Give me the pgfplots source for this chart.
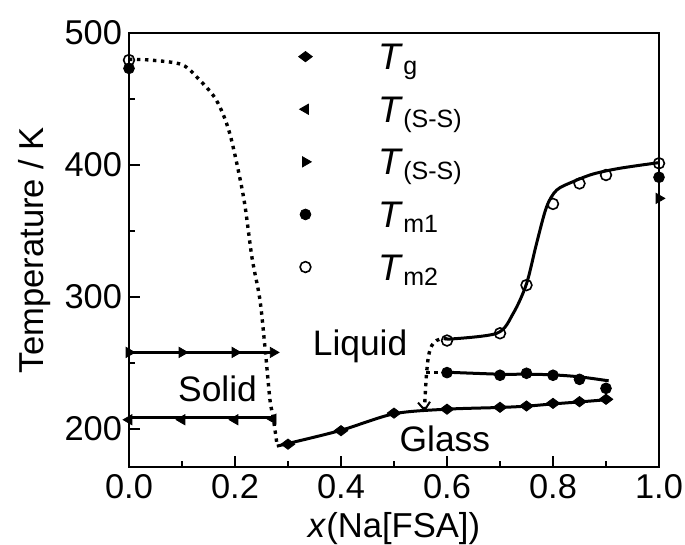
\documentclass[border=0pt]{standalone}
\usepackage{pgfplots}
\pgfplotsset{compat=1.18}
\usepackage{fontspec}
\setmainfont{Liberation Sans}
\usetikzlibrary{arrows.meta}
\newcommand\sub[1]{\raisebox{-2.5pt}{\fontsize{12.5}{12.5}\selectfont #1}}
\newcommand\leg[1]{\hspace*{28pt}\textit{T}\sub{#1}}
\begin{document}
\begin{tikzpicture}
\pgfplotsset{
  lm/.style={only marks, legend image code/.code={\path[draw=none] (0,0) -- (0.6cm,0); \path[mark repeat=2,mark phase=2,##1,draw=none] plot[only marks] coordinates {(0cm,0cm) (0.3cm,0cm) (0.6cm,0cm)};}},
  dotl/.style={line width=1.7pt, dash pattern=on 1.7pt off 2.3pt, black},
  soll/.style={line width=1.5pt, black},
}
\begin{axis}[
  width=265pt, height=217pt, scale only axis,
  xmin=0, xmax=1, ymin=171.2, ymax=500,
  xtick={0,0.2,0.4,0.6,0.8,1.0}, minor x tick num=1,
  ytick={200,300,400,500}, minor y tick num=1,
  tick align=inside, xtick pos=bottom, ytick pos=left,
  major tick length=5.5pt, minor tick length=3pt,
  axis line style={line width=1pt},
  every tick/.style={line width=1pt, black},
  tick label style={font=\fontsize{17.2}{17.2}\selectfont},
  /pgf/number format/assume math mode=true,
  xticklabel style={/pgf/number format/fixed, /pgf/number format/fixed zerofill, /pgf/number format/precision=1},
  yticklabel style={/pgf/number format/fixed},
  xlabel={\textit{x}(Na[FSA])}, ylabel={Temperature / K},
  label style={font=\fontsize{17.3}{17.3}\selectfont},
  clip=false,
  legend cell align=left,
  legend style={at={(axis cs:0.300,493.0)}, anchor=north west, draw=none, fill=none, inner sep=0pt,
    font=\fontsize{18.5}{18.5}\selectfont,
    nodes={inner sep=0pt, text height=13.5pt, text depth=0.5pt},
    row sep=12.3pt},
]
% lines
\addplot[dotl, smooth, forget plot] coordinates {(0,480) (0.04,479.5) (0.1,476) (0.134,464) (0.165,449) (0.19,424) (0.216,376) (0.232,330) (0.247,298) (0.257,260) (0.266,222) (0.272,209) (0.279,189)};
\addplot[dotl, smooth, forget plot, -{Straight Barb[length=4pt,width=6pt,line width=1pt]}] coordinates {(0.6,268) (0.593,268.7) (0.58,267) (0.571,263) (0.565,255) (0.561,240) (0.558,219) (0.558,213)};
\addplot[dotl, forget plot] coordinates {(0.561,243) (0.6,243)};
\addplot[soll, smooth, forget plot] coordinates {(0.279,187) (0.3,189) (0.4,199) (0.5,211.5) (0.6,215) (0.7,216.3) (0.75,217.3) (0.8,219) (0.85,220.5) (0.905,222.3)};
\addplot[soll, smooth, forget plot] coordinates {(0.6,243) (0.7,241.5) (0.75,241.5) (0.8,241) (0.85,239.5) (0.905,236.5)};
\addplot[soll, smooth, tension=0.5, forget plot] coordinates {(0.6,268) (0.694,272.5) (0.725,287.6) (0.75,310) (0.769,340.6) (0.788,368.4) (0.807,381) (0.838,387.4) (0.876,393.2) (0.926,397.5) (1.0,401.8)};
\addplot[soll, forget plot] coordinates {(0,258) (0.272,258)};
\addplot[soll, forget plot] coordinates {(0,208.5) (0.275,208.5)};
% marks
\addplot[lm, black, mark=diamond*, mark size=3.4pt, mark options={rotate=90}] coordinates {(0.3,188.5) (0.4,198.7) (0.5,212) (0.6,215) (0.7,216.4) (0.75,217.4) (0.8,219.4) (0.85,220.7) (0.9,222.5)};
\addlegendentry{\leg{g}}
\addplot[lm, black, mark=triangle*, mark size=2.9pt, mark options={rotate=90}] coordinates {(0,207) (0.1,207) (0.2,207) (0.272,207.5)};
\addlegendentry{\leg{(S-S)}}
\addplot[lm, black, mark=triangle*, mark size=2.9pt, mark options={rotate=-90}] coordinates {(0,258) (0.1,258) (0.2,258) (0.272,258) (1.0,374.7)};
\addlegendentry{\leg{(S-S)}}
\addplot[lm, black, mark=*, mark size=2.7pt] coordinates {(0,473.2) (0.6,242.7) (0.7,240.7) (0.75,242.2) (0.8,240.7) (0.85,237.6) (0.9,230.8) (1.0,390.7)};
\addlegendentry{\leg{m1}}
\addplot[lm, black, mark=o, mark size=2.7pt, mark options={fill=white, line width=0.8pt}] coordinates {(0,479.5) (0.6,267) (0.7,272.5) (0.75,309) (0.8,370.5) (0.85,386) (0.9,392.4) (1.0,401.3)};
\addlegendentry{\leg{m2}}
\node[anchor=base, font=\fontsize{17.7}{17.7}\selectfont] at (axis cs:0.167,220.5) {Solid};
\node[anchor=base, font=\fontsize{17.7}{17.7}\selectfont] at (axis cs:0.436,256) {Liquid};
\node[anchor=base, font=\fontsize{17.7}{17.7}\selectfont] at (axis cs:0.596,182.6) {Glass};
\coordinate (O) at (rel axis cs:0,0);
\end{axis}
\pgfresetboundingbox
\path (O) ++(-64.5pt,-39pt) rectangle ++(342.5pt,272.5pt);
\end{tikzpicture}
\end{document}
